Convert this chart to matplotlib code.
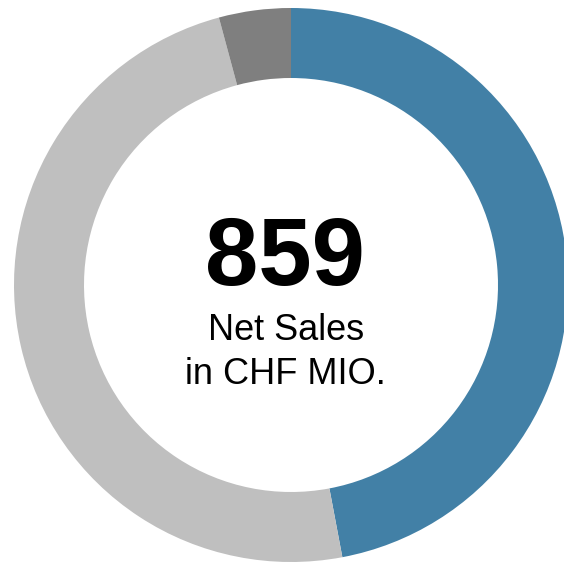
import matplotlib.pyplot as plt

# Anteile am Umsatz (CHF Mio.), Summe 859
segments = ['Segment A', 'Segment B', 'Segment C']
sales = [404, 419, 36]
colors = ['#4280a6', '#bfbfbf', '#7f7f7f']

total = 859
label_1 = 'Net Sales'
label_2 = 'in CHF MIO.'

plt.rcParams['font.family'] = ['Liberation Sans', 'DejaVu Sans']

fig = plt.figure(figsize=(5.64, 5.64), dpi=100)
ax = fig.add_axes([0, 0, 1, 1])

ax.pie(sales, colors=colors, startangle=90, counterclock=False,
       center=(291, 279), radius=277, frame=True,
       wedgeprops=dict(width=70, linewidth=0))
ax.set_xlim(0, 564)
ax.set_ylim(0, 564)
ax.set_aspect('equal')
ax.axis('off')

ax.text(285, 304, str(total), ha='center', va='center',
        fontsize=69, fontweight='bold', color='black')
ax.text(286, 233, label_1, ha='center', va='center', fontsize=26, color='black')
ax.text(285, 189, label_2, ha='center', va='center', fontsize=26, color='black')

plt.savefig('out.png', dpi=100)
